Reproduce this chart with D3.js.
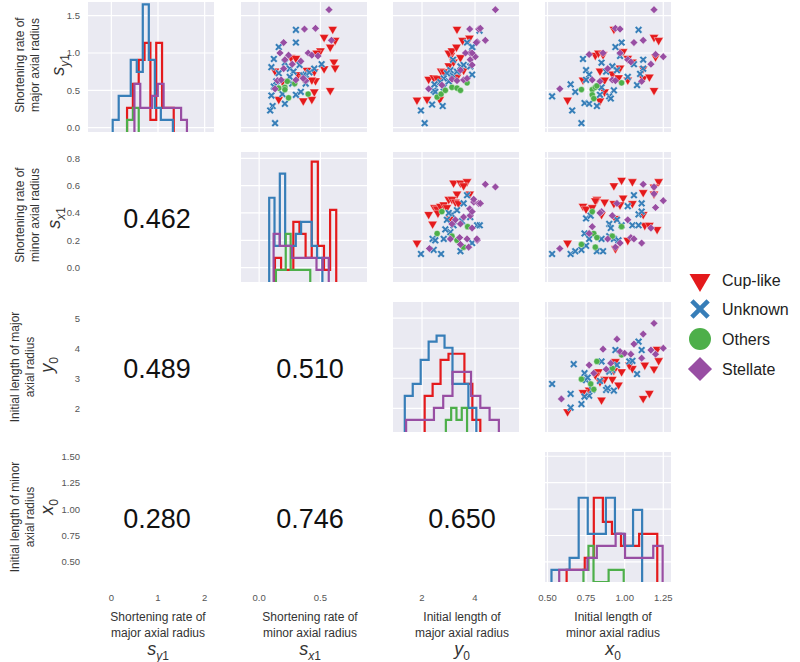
<!DOCTYPE html>
<html>
<head>
<meta charset="utf-8">
<script src="https://cdn.jsdelivr.net/npm/d3@7"></script>
<style>
  body { margin: 0; background: #fff; }
  text { font-family: "Liberation Sans", Arial, sans-serif; }
</style>
</head>
<body>
<svg id="chart" width="800" height="662"></svg>
<script>
//------------------------- DATA ---------------------------------------

var categories = ["Cup-like", "Unknown", "Others", "Stellate"];
var catColors = ["#e41a1c", "#377eb8", "#4daf4a", "#984ea3"];

// variables in row/column order: s_y1, s_x1, y0, x0
var varTicks = [[0, 1, 2], [0, 0.5], [2, 4], [0.5, 0.75, 1, 1.25]];
var varTickLabels = [["0", "1", "2"], ["0.0", "0.5"], ["2", "4"], ["0.50", "0.75", "1.00", "1.25"]];
var rowTicks = [[0, 0.5, 1, 1.5], [0, 0.2, 0.4, 0.6, 0.8], [2, 3, 4, 5], [0.5, 0.75, 1, 1.25, 1.5]];
var rowTickLabels = [["0.0", "0.5", "1.0", "1.5"], ["0.0", "0.2", "0.4", "0.6", "0.8"], ["2", "3", "4", "5"], ["0.50", "0.75", "1.00", "1.25", "1.50"]];
var colLimits = [[-0.5, 2.2], [-0.148, 0.88], [0.905, 5.66], [0.484, 1.3]];
var rowLimits = [[-0.058, 1.683], [-0.105, 0.846], [1.21, 5.54], [0.31, 1.54]];

var labelLines = [["Shortening rate of", "major axial radius"], ["Shortening rate of", "minor axial radius"],
                  ["Initial length of major", "axial radius"], ["Initial length of minor", "axial radius"]];
var bottomLines = [["Shortening rate of", "major axial radius"], ["Shortening rate of", "minor axial radius"],
                   ["Initial length of", "major axial radius"], ["Initial length of", "minor axial radius"]];
var symbolMain = ["s", "s", "y", "x"];
var symbolSub = [["y", "1"], ["x", "1"], ["", "0"], ["", "0"]];

// correlations in the lower triangle: [row, col, value]
var correlations = [[1, 0, "0.462"], [2, 0, "0.489"], [3, 0, "0.280"], [2, 1, "0.510"], [3, 1, "0.746"], [3, 2, "0.650"]];

// histograms on the diagonal: per category [start, bin width, counts]
var histSy1 = [[0.337, 0.125, [2, 4, 6, 7.4, 1, 7.4, 2, 2]],
               [0.029, 0.129, [1, 3, 3, 6, 5, 10.6, 6, 2, 1, 1]],
               [0.337, 0.125, [1, 2]],
               [0.495, 0.125, [4, 2, 2, 3, 4, 2, 2, 2, 1]]];
var histSx1 = [[0.129, 0.05, [2, 1, 1, 5, 4, 2, 10, 3, 1, 6]],
               [0.082, 0.0434, [7, 3, 9, 3, 3, 4, 5, 5, 3, 2]],
               [0.137, 0.04, [1, 1, 4, 1, 1, 1, 1]],
               [0.118, 0.05, [4, 3, 3, 2, 2, 2, 2, 1, 2]]];
var histY0 = [[2.1, 0.3, [3, 4, 6, 6.5, 6.5, 4, 1]],
              [1.35, 0.3, [3, 4, 6, 7.5, 8, 7, 4, 4, 2]],
              [2.9, 0.2, [1, 2, 1, 2]],
              [1.4, 0.35, [1, 1, 1, 2, 3, 5, 5, 3, 2, 1]]];
var histX0 = [[0.624, 0.0587, [1, 1, 2, 7, 5, 4, 3, 3, 4, 4]],
              [0.526, 0.0587, [1, 1, 2, 7, 4, 4, 7, 4, 3, 6]],
              [0.733, 0.0326, [1, 3, 0, 0, 0, 1, 1, 1]],
              [0.576, 0.0609, [1, 1, 1, 2, 3, 3, 4, 2, 2, 2, 3]]];

// scatter panels: [cup-like, unknown, others, stellate], points are [x, y]
var sx1_sy1 = [
  [[0.60,1.32],[0.53,1.21],[0.62,1.17],[0.58,1.08],[0.50,1.03],[0.47,1.00],[0.26,0.94],[0.30,0.93],[0.61,0.88],[0.62,0.80],[0.53,0.79],[0.45,0.75],[0.39,0.77],[0.13,0.76],[0.32,0.71],[0.36,0.66],[0.46,0.63],[0.19,0.62],[0.43,0.64],[0.45,0.48],[0.58,0.50],[0.36,0.36],[0.43,0.38],[0.16,0.38]],
  [[0.30,1.31],[0.30,1.14],[0.16,1.08],[0.12,0.92],[0.10,0.81],[0.21,0.87],[0.25,0.79],[0.16,0.73],[0.28,0.75],[0.33,0.84],[0.38,0.71],[0.41,0.74],[0.45,0.79],[0.51,0.85],[0.14,0.62],[0.12,0.55],[0.10,0.43],[0.19,0.45],[0.21,0.32],[0.11,0.29],[0.09,0.23],[0.13,0.06],[0.30,0.44],[0.34,0.48],[0.38,0.59],[0.27,0.59],[0.25,0.68],[0.36,0.70]],
  [[0.23,0.62],[0.29,0.59],[0.21,0.54],[0.21,0.51],[0.24,0.40],[0.40,0.45],[0.16,0.53]],
  [[0.57,1.58],[0.37,1.32],[0.46,1.33],[0.59,1.17],[0.20,1.14],[0.17,1.00],[0.24,0.97],[0.40,1.00],[0.43,0.97],[0.48,0.96],[0.34,0.89],[0.27,0.85],[0.20,0.79],[0.15,0.63],[0.30,0.64],[0.38,0.63],[0.36,0.66],[0.13,0.52],[0.21,0.91],[0.18,0.64]]
];
var y0_sy1 = [
  [[1.81,0.37],[2.19,0.38],[2.67,0.38],[2.25,0.65],[2.44,0.67],[2.72,0.76],[3.09,0.97],[3.01,1.00],[3.13,1.03],[3.32,1.32],[3.53,1.17],[3.79,1.20],[3.30,1.08],[3.01,0.83],[3.19,0.88],[3.45,0.94],[2.82,0.75],[2.69,0.64],[3.32,0.68],[3.57,0.77],[2.57,0.66]],
  [[1.96,0.23],[2.10,0.06],[2.38,0.31],[2.78,0.29],[2.44,0.50],[2.50,0.48],[2.82,0.54],[3.01,0.62],[3.13,0.71],[3.45,0.82],[3.57,0.84],[3.70,1.14],[3.91,1.08],[3.17,0.91],[3.32,0.75],[3.07,0.77],[2.94,0.73],[2.82,0.66],[2.69,0.61],[2.47,0.58],[4.17,1.30],[3.89,1.08],[3.89,0.71],[3.82,0.82]],
  [[2.57,0.41],[2.72,0.45],[2.88,0.50],[3.13,0.54],[3.32,0.53],[3.45,0.50],[3.70,0.60]],
  [[2.25,0.52],[2.75,0.57],[3.13,0.65],[3.32,0.63],[3.57,0.64],[3.70,0.66],[3.45,0.77],[3.82,1.00],[3.82,0.91],[4.01,0.95],[4.08,1.15],[3.80,1.32],[4.14,1.32],[4.77,1.58],[4.20,1.33],[4.39,1.17],[4.05,1.14],[3.89,1.00],[3.89,0.84],[3.64,1.00]]
];
var x0_sy1 = [
  [[0.93,1.32],[1.19,1.21],[1.22,1.17],[0.99,1.02],[0.81,0.97],[0.83,1.00],[0.86,0.98],[1.02,0.93],[1.05,0.88],[1.12,0.79],[0.97,0.80],[0.84,0.76],[0.92,0.72],[0.96,0.67],[1.02,0.64],[1.12,0.66],[1.16,0.68],[1.20,0.95],[0.73,0.64],[0.87,0.64],[0.87,0.48],[0.84,0.36],[0.63,0.37],[1.19,0.50]],
  [[1.09,1.31],[0.98,1.14],[0.94,1.08],[0.97,0.96],[0.73,0.92],[0.85,0.87],[0.92,0.82],[0.75,0.77],[0.77,0.71],[0.88,0.75],[0.95,0.77],[1.06,0.85],[1.12,0.91],[1.12,0.79],[1.02,0.68],[1.10,0.72],[1.08,0.57],[0.65,0.58],[0.68,0.48],[0.53,0.42],[0.75,0.64],[0.85,0.54],[0.93,0.50],[0.84,0.44],[0.90,0.42],[0.91,0.39],[0.74,0.33],[0.77,0.32],[0.82,0.29],[0.66,0.23],[0.72,0.06]],
  [[0.72,0.51],[0.79,0.51],[0.81,0.54],[0.82,0.56],[0.79,0.44],[0.80,0.39],[0.98,0.60]],
  [[1.19,1.58],[0.94,1.33],[0.97,1.32],[1.06,1.14],[1.12,1.17],[0.77,0.98],[0.86,1.00],[0.97,1.00],[1.20,0.98],[1.25,0.95],[1.17,0.85],[1.02,0.91],[1.04,0.88],[0.89,0.79],[0.79,0.64],[0.84,0.62],[0.92,0.64],[0.94,0.63],[1.11,0.62],[0.58,0.52]]
];
var y0_sx1 = [
  [[3.19,0.62],[3.45,0.62],[3.70,0.63],[3.80,0.54],[3.32,0.54],[2.47,0.44],[2.57,0.43],[2.69,0.45],[2.82,0.46],[3.01,0.50],[3.13,0.50],[3.26,0.48],[3.38,0.47],[2.25,0.39],[1.81,0.18],[2.40,0.32],[2.94,0.44],[3.57,0.60],[2.60,0.40],[3.05,0.36]],
  [[1.96,0.10],[2.44,0.13],[2.72,0.10],[3.45,0.12],[2.40,0.21],[2.50,0.20],[2.82,0.21],[3.07,0.26],[3.13,0.39],[2.94,0.35],[3.01,0.40],[3.32,0.42],[3.57,0.47],[3.70,0.53],[2.88,0.28],[3.19,0.31],[3.51,0.34],[3.82,0.37],[4.08,0.31],[4.18,0.31],[3.89,0.18]],
  [[2.75,0.41],[2.57,0.25],[3.13,0.23],[3.32,0.20],[3.57,0.15],[3.72,0.30]],
  [[2.28,0.14],[3.13,0.32],[3.26,0.35],[3.57,0.37],[3.45,0.32],[3.80,0.43],[3.82,0.38],[3.95,0.48],[4.14,0.47],[3.07,0.21],[3.42,0.22],[3.70,0.21],[3.76,0.15],[4.08,0.20],[3.45,0.17],[4.39,0.61],[4.77,0.59],[3.95,0.50],[4.20,0.47],[3.89,0.41],[3.89,0.29],[4.07,0.21]]
];
var x0_sx1 = [
  [[0.93,0.60],[0.98,0.64],[1.05,0.63],[1.22,0.63],[1.19,0.59],[1.12,0.55],[1.19,0.54],[0.99,0.51],[0.82,0.50],[0.81,0.49],[0.87,0.48],[0.93,0.47],[0.97,0.46],[1.05,0.47],[0.73,0.45],[0.75,0.43],[0.79,0.44],[0.85,0.39],[1.12,0.39],[0.94,0.36],[1.13,0.31],[1.16,0.31],[1.21,0.28],[1.02,0.20],[0.63,0.18],[0.94,0.14]],
  [[1.06,0.53],[1.11,0.47],[1.02,0.45],[1.09,0.39],[1.11,0.41],[0.75,0.36],[0.78,0.38],[0.90,0.32],[0.95,0.35],[0.98,0.31],[1.05,0.31],[1.09,0.31],[0.74,0.25],[0.77,0.21],[0.85,0.21],[0.90,0.23],[0.93,0.21],[0.96,0.20],[0.75,0.16],[0.72,0.13],[0.82,0.12],[0.86,0.12],[0.53,0.10],[0.65,0.10],[0.68,0.12],[0.91,0.29]],
  [[0.79,0.41],[0.98,0.30],[0.80,0.25],[0.82,0.22],[0.92,0.23],[0.72,0.17],[0.81,0.15]],
  [[1.12,0.61],[1.19,0.59],[1.19,0.54],[1.25,0.49],[1.20,0.44],[0.95,0.47],[0.85,0.41],[0.84,0.40],[0.92,0.38],[1.02,0.35],[1.17,0.29],[0.77,0.25],[0.79,0.30],[1.04,0.22],[1.06,0.21],[1.11,0.18],[0.97,0.18],[0.94,0.15],[0.89,0.21],[0.58,0.14]]
];
var x0_y0 = [
  [[1.21,3.97],[1.22,3.59],[1.19,3.31],[1.13,3.44],[1.05,3.33],[1.03,3.44],[0.98,3.22],[0.94,3.56],[0.93,3.26],[0.92,2.97],[0.87,2.97],[0.84,2.89],[0.83,3.22],[0.81,3.11],[0.77,2.61],[0.73,2.53],[0.96,2.78],[1.16,2.50],[1.12,2.33],[0.85,2.28],[0.63,1.89]],
  [[1.09,4.22],[1.11,3.94],[0.94,3.94],[0.85,3.56],[0.67,3.47],[0.74,3.17],[0.75,2.94],[0.76,3.02],[0.84,2.91],[0.90,3.22],[0.92,3.28],[0.95,3.44],[1.03,3.56],[1.05,3.58],[1.08,3.14],[0.88,2.61],[0.89,2.67],[0.93,2.59],[0.77,2.42],[0.74,2.39],[0.65,2.48],[0.53,2.81],[0.65,2.02],[0.72,2.14],[0.79,2.61]],
  [[0.82,3.56],[0.72,2.97],[0.98,3.78],[0.78,2.81],[0.80,2.63],[0.92,3.33]],
  [[1.19,4.83],[1.12,4.47],[0.95,4.30],[1.06,4.14],[1.17,3.94],[1.25,4.00],[1.20,3.80],[0.86,3.97],[0.97,3.89],[1.00,3.83],[1.04,3.80],[1.11,3.67],[0.77,3.44],[0.91,3.50],[0.88,3.30],[0.80,3.17],[0.59,2.31]]
];

//------------------------- LAYOUT ---------------------------------------

var colX = [88, 241, 393, 545];
var rowY = [2, 152, 302, 452];
var panelW = 126, panelH = 130;

var svg = d3.select('#chart');

var xScales = colLimits.map(function (d, i) {
  return d3.scaleLinear().domain(d).range([colX[i], colX[i] + panelW]);
});
var yScales = rowLimits.map(function (d, i) {
  return d3.scaleLinear().domain(d).range([rowY[i] + panelH, rowY[i]]);
});

// markers
function xMarker(r, t) {
  var p = [[t,-r],[t,-t],[r,-t],[r,t],[t,t],[t,r],[-t,r],[-t,t],[-r,t],[-r,-t],[-t,-t],[-t,-r]];
  return 'M' + p.map(function (q) { return q.join(','); }).join('L') + 'Z';
}
function markerPath(cat, big) {
  if (cat === 0) return d3.symbol(d3.symbolTriangle, big ? 190 : 38)();
  if (cat === 1) return big ? xMarker(11.5, 2.3) : xMarker(4.2, 1.2);
  if (cat === 2) return d3.symbol(d3.symbolCircle, big ? 380 : 30)();
  return d3.symbol(d3.symbolSquare, big ? 290 : 30)();
}
var markerRotate = [180, 45, 0, 45];

//------------------------- PANEL BACKGROUNDS + GRID ---------------------------------

function drawPanel(r, c) {
  var g = svg.append('g');
  g.append('rect')
    .attr('x', colX[c]).attr('y', rowY[r])
    .attr('width', panelW).attr('height', panelH)
    .attr('fill', '#eaeaf2');
  g.selectAll('line.v').data(varTicks[c]).enter().append('line')
    .attr('x1', function (d) { return xScales[c](d); })
    .attr('x2', function (d) { return xScales[c](d); })
    .attr('y1', rowY[r]).attr('y2', rowY[r] + panelH)
    .attr('stroke', '#fff').attr('stroke-width', 1.2);
  g.selectAll('line.h').data(rowTicks[r]).enter().append('line')
    .attr('y1', function (d) { return yScales[r](d); })
    .attr('y2', function (d) { return yScales[r](d); })
    .attr('x1', colX[c]).attr('x2', colX[c] + panelW)
    .attr('stroke', '#fff').attr('stroke-width', 1.2);

  svg.append('clipPath').attr('id', 'clip' + r + c)
    .append('rect')
    .attr('x', colX[c]).attr('y', rowY[r])
    .attr('width', panelW).attr('height', panelH);
  return svg.append('g').attr('clip-path', 'url(#clip' + r + c + ')');
}

//------------------------- DIAGONAL HISTOGRAMS ---------------------------------

var histList = [histSy1, histSx1, histY0, histX0];

histList.forEach(function (hist, i) {
  var g = drawPanel(i, i);
  var hy = d3.scaleLinear().domain([0, 10.8]).range([rowY[i] + panelH, rowY[i]]);
  var line = d3.line()
    .x(function (d) { return xScales[i](d[0]); })
    .y(function (d) { return hy(d[1]); });
  hist.forEach(function (h, cat) {
    var start = h[0], w = h[1], counts = h[2];
    var pts = [[start, 0]];
    counts.forEach(function (n, k) {
      pts.push([start + k * w, n]);
      pts.push([start + (k + 1) * w, n]);
    });
    pts.push([start + counts.length * w, 0]);
    g.append('path')
      .attr('d', line(pts))
      .attr('fill', 'none')
      .attr('stroke', catColors[cat])
      .attr('stroke-width', 2.2)
      .attr('stroke-linejoin', 'miter');
  });
});

//------------------------- SCATTER PANELS ---------------------------------

var scatterPanels = [
  [0, 1, sx1_sy1], [0, 2, y0_sy1], [0, 3, x0_sy1],
  [1, 2, y0_sx1], [1, 3, x0_sx1], [2, 3, x0_y0]
];

scatterPanels.forEach(function (p) {
  var r = p[0], c = p[1], data = p[2];
  var g = drawPanel(r, c);
  data.forEach(function (pts, cat) {
    g.selectAll('path.m' + cat).data(pts).enter().append('path')
      .attr('d', markerPath(cat, false))
      .attr('transform', function (d) {
        return 'translate(' + xScales[c](d[0]) + ',' + yScales[r](d[1]) + ') rotate(' + markerRotate[cat] + ')';
      })
      .attr('fill', catColors[cat])
      .attr('stroke', '#fff')
      .attr('stroke-width', 0.4);
  });
});

//------------------------- CORRELATIONS ---------------------------------

svg.selectAll('text.corr').data(correlations).enter().append('text')
  .attr('x', function (d) { return colX[d[1]] + panelW / 2 + 6; })
  .attr('y', function (d) { return rowY[d[0]] + panelH / 2 + 2; })
  .attr('text-anchor', 'middle')
  .attr('dominant-baseline', 'central')
  .attr('font-size', 27)
  .attr('fill', '#111')
  .text(function (d) { return d[2]; });

//------------------------- TICK LABELS ---------------------------------

rowTicks.forEach(function (ticks, r) {
  svg.selectAll('text.yt' + r).data(ticks).enter().append('text')
    .attr('x', 80)
    .attr('y', function (d) { return yScales[r](d); })
    .attr('text-anchor', 'end')
    .attr('dominant-baseline', 'central')
    .attr('font-size', 9.5)
    .attr('fill', '#555')
    .text(function (d, k) { return rowTickLabels[r][k]; });
});
varTicks.forEach(function (ticks, c) {
  svg.selectAll('text.xt' + c).data(ticks).enter().append('text')
    .attr('x', function (d) { return xScales[c](d); })
    .attr('y', 597)
    .attr('text-anchor', 'middle')
    .attr('dominant-baseline', 'central')
    .attr('font-size', 9.5)
    .attr('fill', '#555')
    .text(function (d, k) { return varTickLabels[c][k]; });
});

//------------------------- AXIS LABELS ---------------------------------

function addSymbol(t, i) {
  t.append('tspan').attr('font-style', 'italic').attr('font-size', 18).text(symbolMain[i]);
  var sub = t.append('tspan').attr('font-size', 12).attr('dy', 5);
  if (symbolSub[i][0]) sub.append('tspan').attr('font-style', 'italic').text(symbolSub[i][0]);
  sub.append('tspan').text(symbolSub[i][1]);
}

var leftLineX = [[20, 35, 60], [20, 35, 56], [15, 30, 49], [15, 30, 49]];
var leftSymY = [65, 218, 365, 507];

labelLines.forEach(function (lines, r) {
  var cy = rowY[r] + panelH / 2 - 2 + (r >= 2 ? 2 : 0);
  lines.forEach(function (txt, k) {
    svg.append('text')
      .attr('transform', 'translate(' + leftLineX[r][k] + ',' + cy + ') rotate(-90)')
      .attr('text-anchor', 'middle')
      .attr('dominant-baseline', 'central')
      .attr('font-size', 12)
      .attr('fill', '#333')
      .text(txt);
  });
  var t = svg.append('text')
    .attr('transform', 'translate(' + (leftLineX[r][2] + 4) + ',' + leftSymY[r] + ') rotate(-90)')
    .attr('text-anchor', 'middle')
    .attr('fill', '#333');
  addSymbol(t, r);
});

var bottomX = [158, 310, 462, 613];
bottomLines.forEach(function (lines, c) {
  lines.forEach(function (txt, k) {
    svg.append('text')
      .attr('x', bottomX[c])
      .attr('y', 617 + k * 16)
      .attr('text-anchor', 'middle')
      .attr('dominant-baseline', 'central')
      .attr('font-size', 12)
      .attr('fill', '#333')
      .text(txt);
  });
  var t = svg.append('text')
    .attr('x', bottomX[c])
    .attr('y', 655)
    .attr('text-anchor', 'middle')
    .attr('fill', '#333');
  addSymbol(t, c);
});

//------------------------- LEGEND ---------------------------------

var legendY = [280, 309, 339, 369];
categories.forEach(function (name, cat) {
  svg.append('path')
    .attr('d', markerPath(cat, true))
    .attr('transform', 'translate(700,' + legendY[cat] + ') rotate(' + markerRotate[cat] + ')')
    .attr('fill', catColors[cat]);
  svg.append('text')
    .attr('x', 722)
    .attr('y', legendY[cat])
    .attr('dominant-baseline', 'central')
    .attr('font-size', 16)
    .attr('fill', '#222')
    .text(name);
});
</script>
</body>
</html>
